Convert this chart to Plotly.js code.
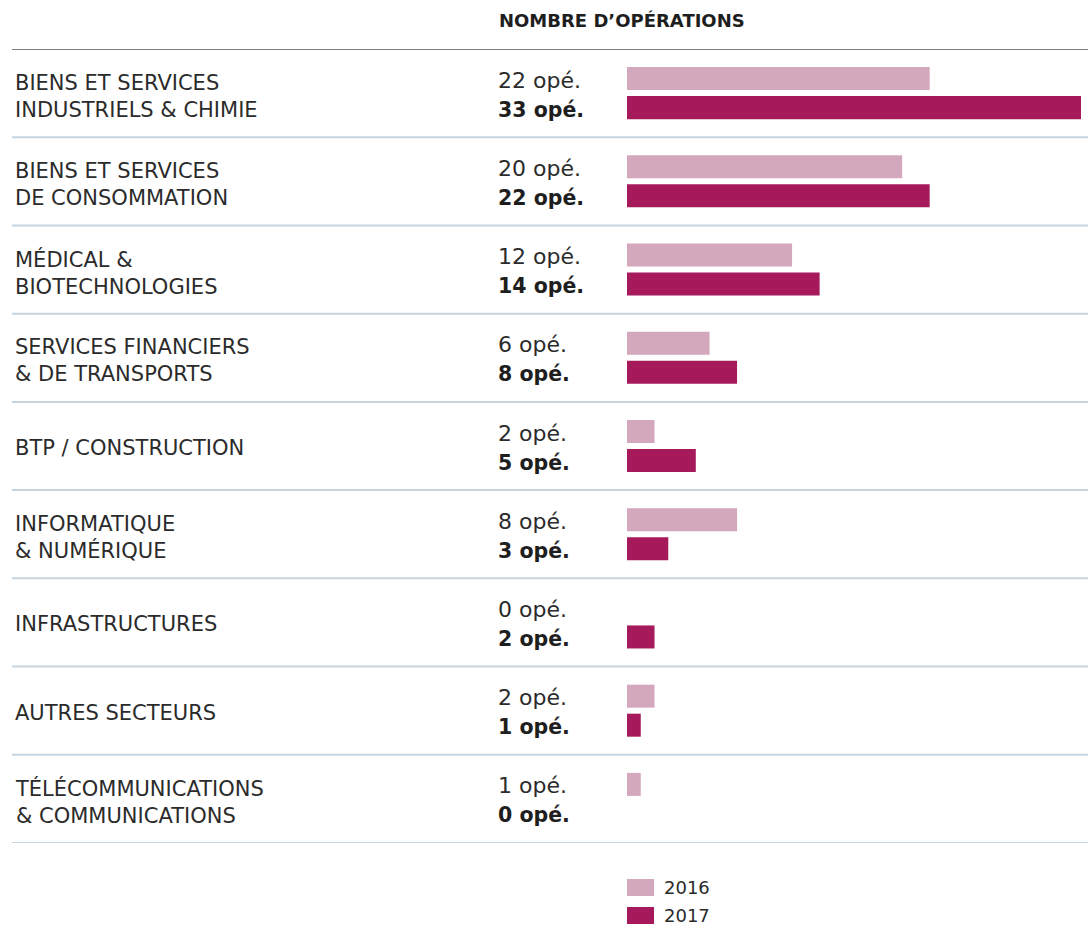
<!DOCTYPE html>
<html>
<head>
<meta charset="utf-8">
<script src="https://cdn.plot.ly/plotly-3.0.1.min.js"></script>
<style>
  html, body { margin: 0; padding: 0; background: #ffffff; }
  #chart { width: 1088px; height: 925px; }
</style>
</head>
<body>
<div id="chart"></div>
<script>
const categories = [
  "BIENS ET SERVICES<br>INDUSTRIELS & CHIMIE",
  "BIENS ET SERVICES<br>DE CONSOMMATION",
  "MÉDICAL &<br>BIOTECHNOLOGIES",
  "SERVICES FINANCIERS<br>& DE TRANSPORTS",
  "BTP / CONSTRUCTION",
  "INFORMATIQUE<br>& NUMÉRIQUE",
  "INFRASTRUCTURES",
  "AUTRES SECTEURS",
  "TÉLÉCOMMUNICATIONS<br>& COMMUNICATIONS"
];
const values2016 = [22, 20, 12, 6, 2, 8, 0, 2, 1];
const values2017 = [33, 22, 14, 8, 5, 3, 2, 1, 0];
const seriesNames = ["2016", "2017"];
const unitSuffix = " opé.";
const headerText = "NOMBRE D’OPÉRATIONS";

const W = 1088, H = 925;
const FONT = "DejaVu Sans, sans-serif";
const TEXT = "#2b2b2b";
const DARK = "#1e1e1e";
const C2016 = "#d3a7bc";
const C2017 = "#a6195a";
const SEP = "#c5d4de";

const px = v => v / W;
const py = v => 1 - v / H;

const seriesValues = [values2016, values2017];
const seriesColors = [C2016, C2017];

const traces = seriesNames.map((n, s) => ({
  type: "bar", orientation: "h", name: n, y: categories, x: seriesValues[s],
  marker: { color: seriesColors[s] }, hoverinfo: "x+name", showlegend: false
}));

const annotations = [];
annotations.push({ xref: "paper", yref: "paper", x: px(497), y: py(21), xanchor: "left", yanchor: "middle",
  text: "<b>" + headerText + "</b>", showarrow: false, font: { family: FONT, size: 18, color: DARK } });

categories.forEach((c, i) => {
  const twoLines = c.indexOf("<br>") >= 0;
  annotations.push({ xref: "paper", yref: "y", x: px(13), y: c, yshift: twoLines ? -3 : -2,
    xanchor: "left", yanchor: "middle", align: "left",
    text: c, showarrow: false, font: { family: FONT, size: 21, color: TEXT } });
  annotations.push({ xref: "paper", yref: "y", x: px(496), y: c, yshift: 13, xanchor: "left", yanchor: "middle",
    text: values2016[i] + unitSuffix, showarrow: false, font: { family: FONT, size: 22, color: TEXT } });
  annotations.push({ xref: "paper", yref: "y", x: px(496), y: c, yshift: -16.5, xanchor: "left", yanchor: "middle",
    text: "<b>" + values2017[i] + unitSuffix + "</b>", showarrow: false, font: { family: FONT, size: 20.5, color: DARK } });
});

const shapes = [];
for (let k = 0; k <= categories.length; k++) {
  shapes.push({ type: "line", xref: "paper", yref: "y", x0: px(12), x1: 1, y0: k - 0.5, y1: k - 0.5,
    line: { color: k === 0 ? "#808080" : SEP, width: 2 } });
}

// custom legend (swatch + label) below the chart
seriesNames.forEach((n, s) => {
  const top = 879 + s * 28;
  shapes.push({ type: "rect", xref: "paper", yref: "paper", x0: px(627), x1: px(654), y0: py(top), y1: py(top + 17),
    fillcolor: seriesColors[s], line: { width: 0 } });
  annotations.push({ xref: "paper", yref: "paper", x: px(662), y: py(top + 8.5), xanchor: "left", yanchor: "middle",
    text: n, showarrow: false, font: { family: FONT, size: 18, color: TEXT } });
});

const layout = {
  width: W, height: H,
  margin: { l: 0, r: 0, t: 0, b: 0, autoexpand: false },
  paper_bgcolor: "#ffffff", plot_bgcolor: "#ffffff",
  barmode: "group", bargap: 0.342, bargroupgap: 0.207,
  showlegend: false,
  xaxis: { domain: [px(627), px(1081)], range: [0, 33], visible: false, fixedrange: true },
  yaxis: { domain: [py(843), py(49)], type: "category", range: [categories.length - 0.5, -0.5],
    visible: false, fixedrange: true },
  annotations: annotations,
  shapes: shapes,
  font: { family: FONT, color: TEXT }
};

Plotly.newPlot("chart", traces, layout, { displayModeBar: false, staticPlot: true });
</script>
</body>
</html>
